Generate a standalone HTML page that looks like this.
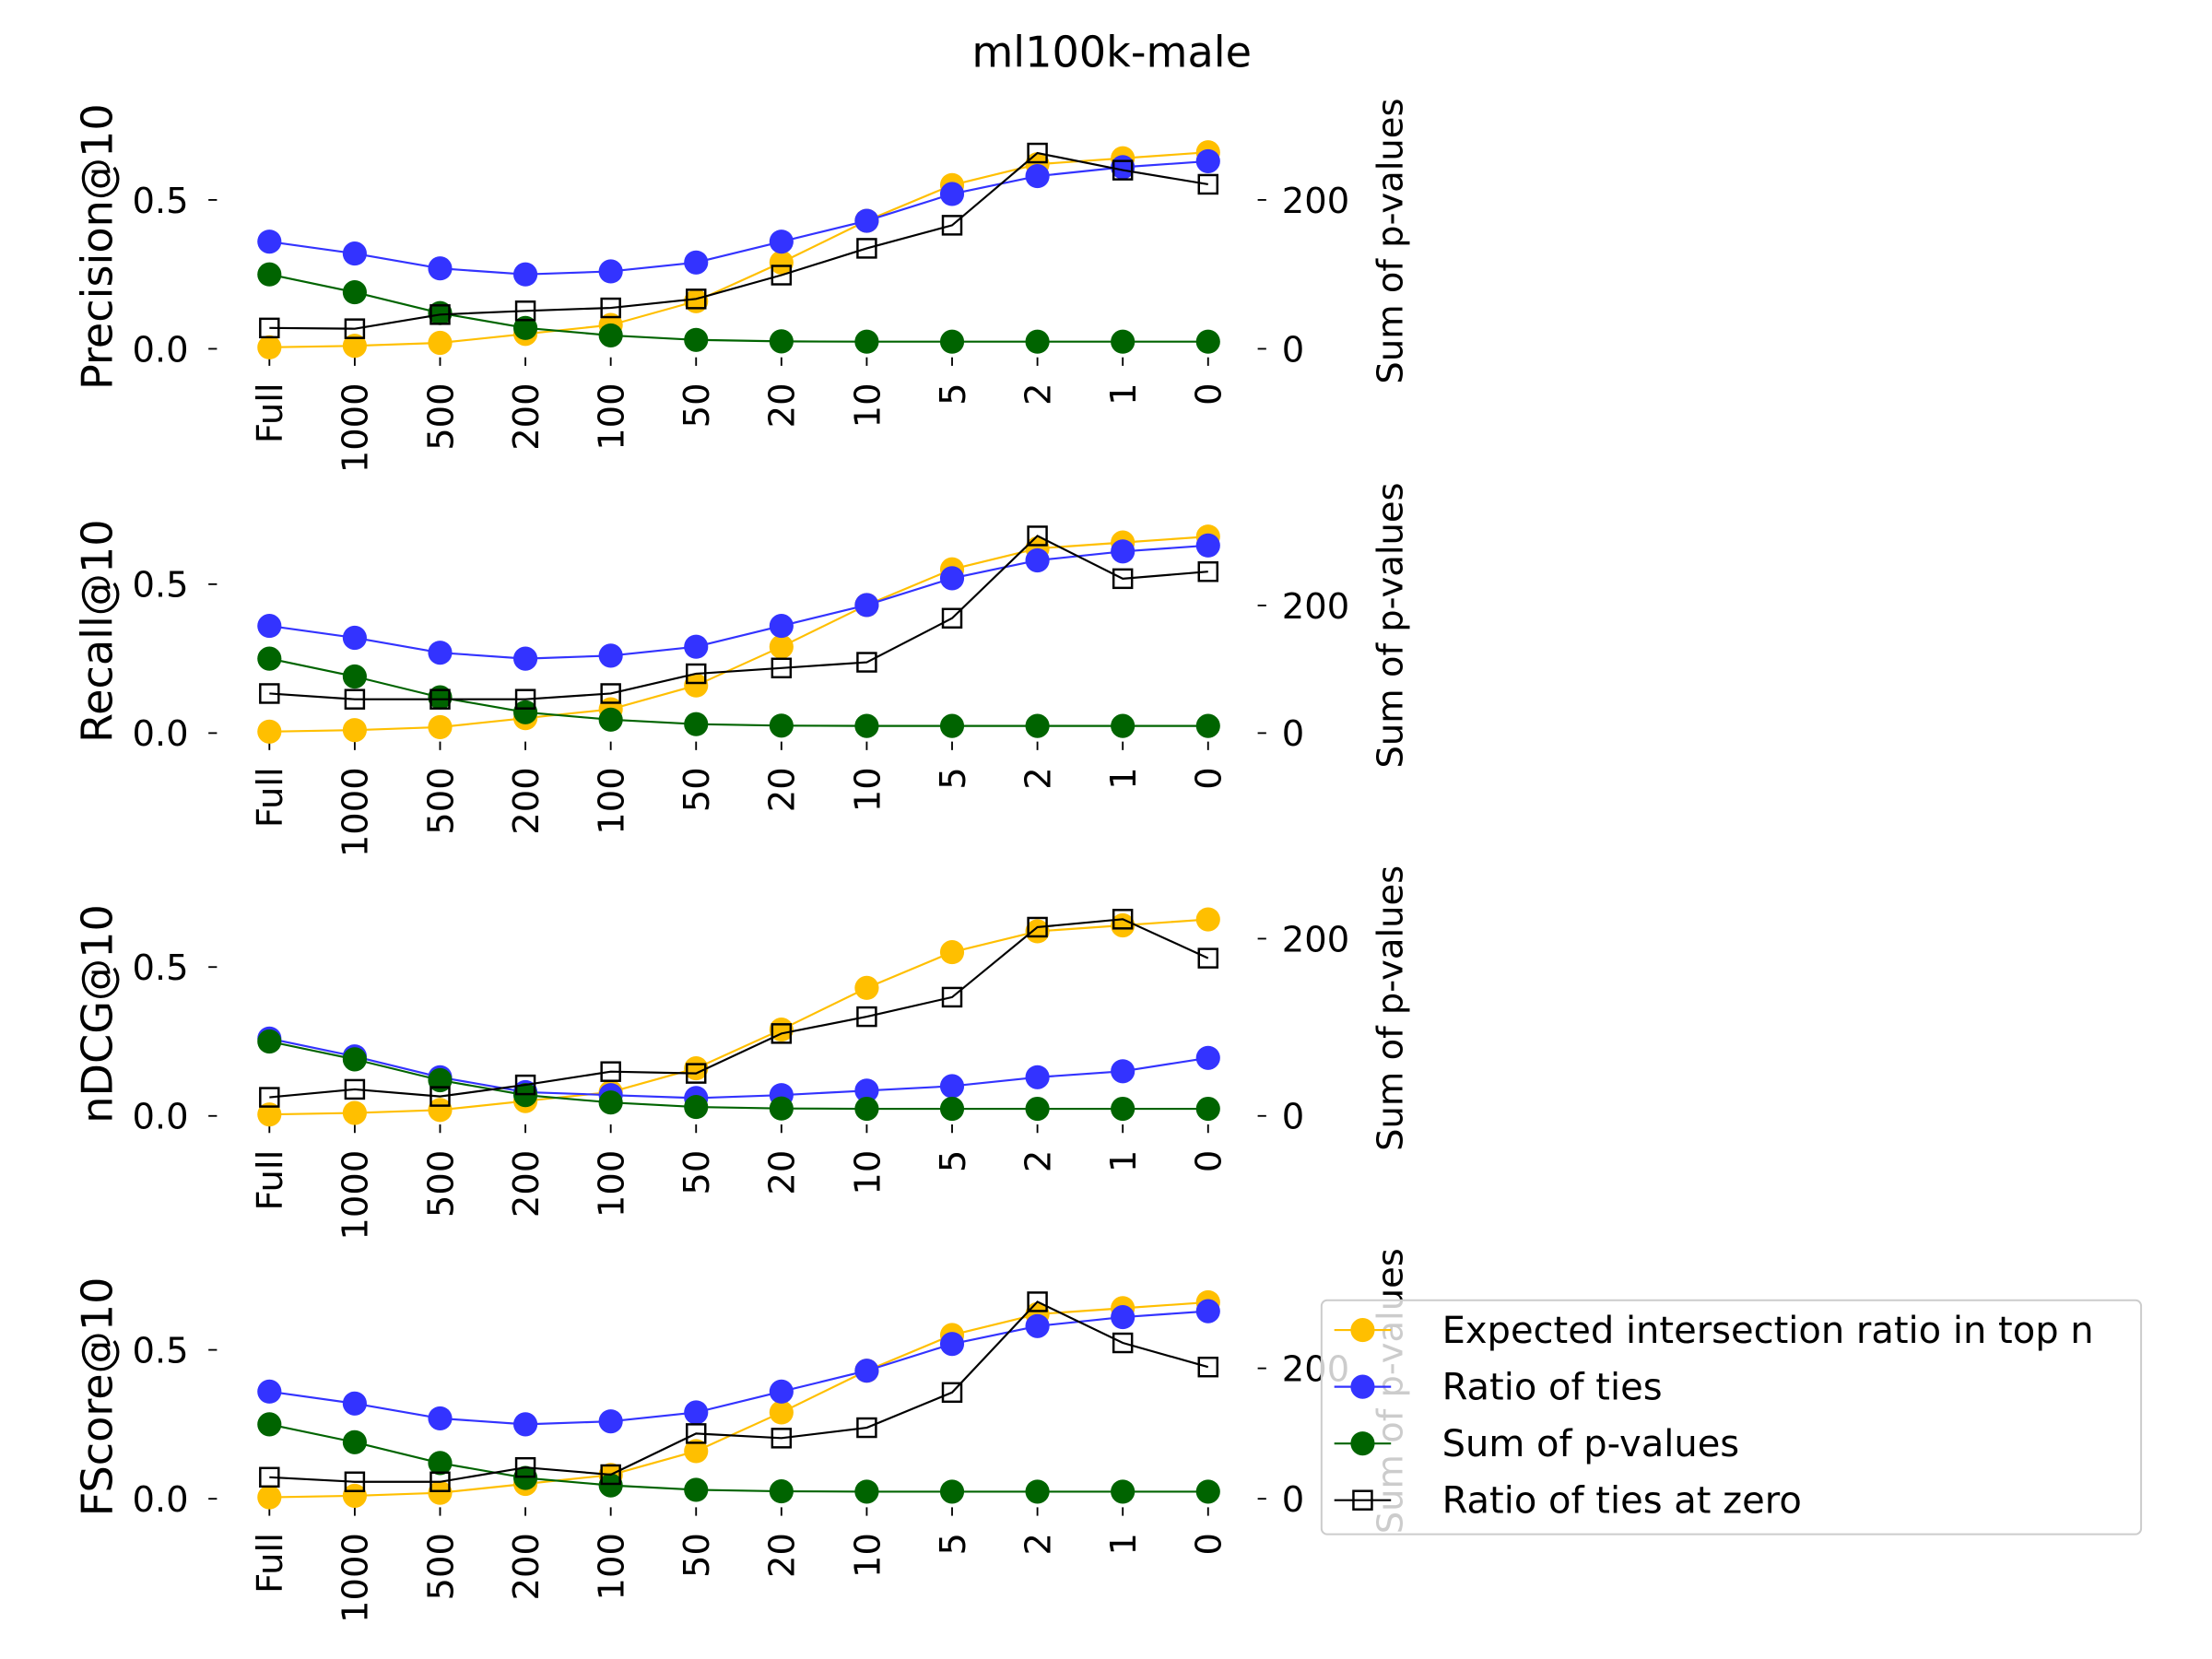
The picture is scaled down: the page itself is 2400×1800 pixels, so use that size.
<!DOCTYPE html>
<html><head><meta charset="utf-8"><style>
html,body{margin:0;padding:0;background:#fff}
svg{display:block}
text{font-family:"DejaVu Sans","Liberation Sans",sans-serif;fill:#000}
</style></head><body>
<svg id="fig" width="2400" height="1800" viewBox="0 0 1560 1170" xmlns="http://www.w3.org/2000/svg">
<text x="784" y="47" font-size="30" text-anchor="middle">ml100k-male</text>
<g id="panels"></g>
<g transform="translate(-5,-3)">
<rect x="937" y="920" width="578" height="165" rx="4" fill="#fff" fill-opacity="0.8" stroke="#ccc" stroke-width="1.3"/>
<g><line x1="946" y1="941" x2="986" y2="941" stroke="#ffbf00" stroke-width="1.4"/><circle cx="966" cy="941" r="8.5" fill="#ffbf00"/><text x="1022" y="950" font-size="26">Expected intersection ratio in top n</text></g>
<g><line x1="946" y1="981" x2="986" y2="981" stroke="#3333ff" stroke-width="1.4"/><circle cx="966" cy="981" r="8.5" fill="#3333ff"/><text x="1022" y="990" font-size="26">Ratio of ties</text></g>
<g><line x1="946" y1="1021" x2="986" y2="1021" stroke="#006400" stroke-width="1.4"/><circle cx="966" cy="1021" r="8.5" fill="#006400"/><text x="1022" y="1030" font-size="26">Sum of p-values</text></g>
<g><line x1="946" y1="1061" x2="986" y2="1061" stroke="#000" stroke-width="1.4"/><rect x="959.5" y="1054.5" width="13" height="13" fill="none" stroke="#000" stroke-width="1.6"/><text x="1022" y="1070" font-size="26">Ratio of ties at zero</text></g>
</g>
</svg>
<script>
const categories=["Full","1000","500","200","100","50","20","10","5","2","1","0"];
const metrics=["Precision@10","Recall@10","nDCG@10","FScore@10"];
const leftTicks=[0.0,0.5];
const leftTickLabels=["0.0","0.5"];
const rightTicks=[0,200];
const expectedVals=[0.005,0.01,0.02,0.05,0.08,0.16,0.29,0.43,0.55,0.62,0.64,0.66];
const tiesVals=[0.36,0.32,0.27,0.25,0.26,0.29,0.36,0.43,0.52,0.58,0.61,0.63];
const tiesValsNdcg=[0.26,0.20,0.13,0.08,0.07,0.06,0.07,0.085,0.10,0.13,0.15,0.195];
const pvalVals=[0.25,0.19,0.12,0.07,0.045,0.03,0.025,0.024,0.024,0.024,0.024,0.024];
const zeroP=[28,27,46,51,55,67,99,135,166,263,240,221];
const zeroR=[62,53,53,53,62,93,102,111,180,309,242,253];
const zeroN=[21,30,22,35,50,48,93,112,134,213,222,178];
const zeroF=[33,26,26,48,37,100,93,109,163,302,239,202];
const zeroSeries=[zeroP,zeroR,zeroN,zeroF];
const rightPxPer200=[105,90,125,92];
const baseY=[246,517,787,1057];
const NS="http://www.w3.org/2000/svg";
const root=document.getElementById('panels');
function mk(tag,attrs,parent){const e=document.createElementNS(NS,tag);for(const k in attrs)e.setAttribute(k,attrs[k]);parent.appendChild(e);return e;}
const x0=190,dx=(852-190)/11;
function xs(i){return x0+i*dx;}
metrics.forEach((m,p)=>{
  const g=mk('g',{},root);
  
  
  const y0=baseY[p];
  const yl=v=>y0-v*210;
  const yr=v=>y0-v*rightPxPer200[p]/200;
  const lab=mk('text',{x:0,y:0,'font-size':30,'text-anchor':'middle',transform:`translate(79,${y0-72}) rotate(-90)`},g);
  lab.textContent=m;
  
  
  const rl=mk('text',{x:0,y:0,'font-size':25,'text-anchor':'middle',transform:`translate(989,${y0-76}) rotate(-90)`},g);
  rl.textContent='Sum of p-values';
  
  
  leftTicks.forEach((t,i)=>{
    const y=yl(t);
    mk('line',{x1:147,x2:153,y1:y,y2:y,stroke:'#000','stroke-width':1.2},g);
    const tx=mk('text',{x:133,y:y+9,'font-size':25,'text-anchor':'end'},g);
    tx.textContent=leftTickLabels[i];
    
    
  });
  rightTicks.forEach(t=>{
    const y=yr(t);
    mk('line',{x1:887,x2:893,y1:y,y2:y,stroke:'#000','stroke-width':1.2},g);
    const tx=mk('text',{x:904,y:y+9,'font-size':25},g);
    tx.textContent=String(t);
    
    
  });
  categories.forEach((c,i)=>{
    const x=xs(i);
    mk('line',{x1:x,x2:x,y1:y0+6,y2:y0+12,stroke:'#000','stroke-width':1.2},g);
    const tx=mk('text',{x:0,y:0,'font-size':25,'text-anchor':'end',transform:`translate(${x+9},${y0+24}) rotate(-90)`},g);
    tx.textContent=c;
    
    
  });
  const series=[
    {name:'expected-series',vals:expectedVals,col:'#ffbf00',f:yl,sq:false},
    {name:'ties-series',vals:p===2?tiesValsNdcg:tiesVals,col:'#3333ff',f:yl,sq:false},
    {name:'pvalues-series',vals:pvalVals,col:'#006400',f:yl,sq:false},
    {name:'ties-zero-series',vals:zeroSeries[p],col:'#000',f:yr,sq:true}
  ];
  series.forEach(s=>{
    const sg=mk('g',{},g);
    
    
    const pts=s.vals.map((v,i)=>xs(i)+','+s.f(v)).join(' ');
    mk('polyline',{points:pts,fill:'none',stroke:s.col,'stroke-width':1.4},sg);
    s.vals.forEach((v,i)=>{
      let mkr;
      if(s.sq) mkr=mk('rect',{x:xs(i)-6.5,y:s.f(v)-6.5,width:13,height:13,fill:'none',stroke:'#000','stroke-width':1.6},sg);
      else mkr=mk('circle',{cx:xs(i),cy:s.f(v),r:8.5,fill:s.col},sg);
      
      
    });
  });
});
</script>
</body></html>
